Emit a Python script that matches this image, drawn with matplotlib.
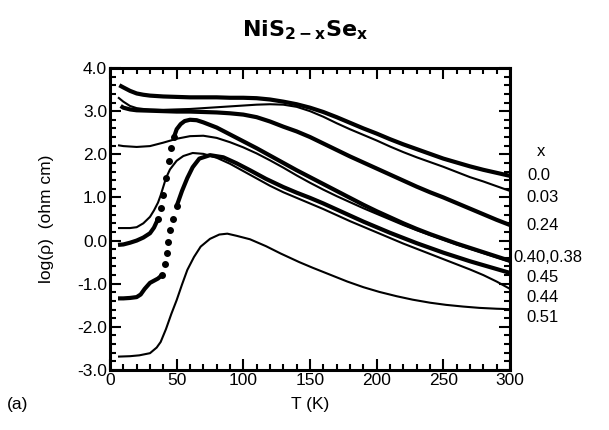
import numpy as np
import matplotlib
matplotlib.use("Agg")
import matplotlib.pyplot as plt
from matplotlib.ticker import MultipleLocator, FormatStrFormatter

plt.rcParams['font.family'] = ['Liberation Sans', 'DejaVu Sans']

# ---- data: temperature (K) and log(rho) ----
T_000 = [7, 10, 15, 20, 25, 30, 40, 50, 60, 70, 80, 90, 100, 110, 120, 130, 140, 150,
         160, 170, 180, 190, 200, 210, 220, 230, 240, 250, 260, 270, 280, 290, 300]
L_000 = [3.60, 3.55, 3.47, 3.41, 3.38, 3.36, 3.34, 3.33, 3.32, 3.32, 3.32, 3.31, 3.31, 3.30,
         3.27, 3.22, 3.16, 3.08, 2.98, 2.86, 2.73, 2.60, 2.48, 2.35, 2.23, 2.12, 2.01, 1.90,
         1.81, 1.72, 1.64, 1.57, 1.50]

T_003 = [6, 10, 15, 20, 25, 30, 40, 50, 60, 70, 80, 90, 100, 110, 120, 130, 140, 150,
         160, 170, 180, 190, 200, 210, 220, 230, 240, 250, 260, 270, 280, 290, 300]
L_003 = [3.32, 3.22, 3.12, 3.07, 3.05, 3.04, 3.03, 3.04, 3.05, 3.07, 3.09, 3.11, 3.13, 3.15,
         3.16, 3.15, 3.10, 3.00, 2.87, 2.72, 2.58, 2.45, 2.32, 2.18, 2.05, 1.93, 1.82, 1.71,
         1.59, 1.47, 1.37, 1.26, 1.15]

T_024 = [8, 10, 15, 20, 30, 40, 50, 60, 70, 80, 90, 100, 110, 120, 130, 140, 150, 160,
         170, 180, 190, 200, 210, 220, 230, 240, 250, 260, 270, 280, 290, 300]
L_024 = [3.12, 3.08, 3.04, 3.02, 3.01, 3.00, 2.99, 2.99, 2.98, 2.97, 2.95, 2.92, 2.86, 2.76,
         2.64, 2.53, 2.40, 2.25, 2.10, 1.95, 1.81, 1.67, 1.53, 1.39, 1.25, 1.12, 1.00, 0.87,
         0.74, 0.61, 0.48, 0.36]

T_038 = [6, 10, 20, 30, 40, 50, 60, 70, 80, 90, 100, 110, 120, 130, 140, 150, 160, 170,
         180, 190, 200, 210, 220, 230, 240, 250, 260, 270, 280, 290, 300]
L_038 = [2.21, 2.19, 2.17, 2.19, 2.27, 2.36, 2.42, 2.43, 2.38, 2.28, 2.16, 2.02, 1.86, 1.69,
         1.51, 1.34, 1.18, 1.03, 0.89, 0.75, 0.62, 0.49, 0.36, 0.24, 0.13, 0.02, -0.09, -0.19,
         -0.29, -0.39, -0.49]

T_040 = [6, 10, 15, 20, 25, 30, 33, 36, 38, 40, 42, 44, 46, 48, 50, 53, 56, 60, 65, 70,
         80, 90, 100, 110, 120, 130, 140, 150, 160, 170, 180, 190, 200, 210, 220, 230, 240,
         250, 260, 270, 280, 290, 300]
L_040 = [-0.10, -0.09, -0.05, 0.00, 0.07, 0.17, 0.30, 0.50, 0.75, 1.05, 1.45, 1.85, 2.15,
         2.40, 2.58, 2.70, 2.77, 2.80, 2.79, 2.74, 2.62, 2.46, 2.30, 2.14, 1.97, 1.80, 1.63,
         1.47, 1.31, 1.15, 0.99, 0.83, 0.68, 0.54, 0.40, 0.27, 0.15, 0.04, -0.07, -0.17,
         -0.27, -0.37, -0.47]

T_045 = [6, 10, 15, 20, 23, 26, 30, 33, 36, 39, 41, 42.5, 43.5, 45, 47, 50, 54, 58, 62, 67,
         75, 85, 95, 105, 117, 130, 140, 150, 160, 170, 180, 190, 200, 210, 220, 230, 240,
         250, 260, 270, 280, 290, 300]
L_045 = [-1.34, -1.34, -1.33, -1.31, -1.25, -1.12, -0.98, -0.93, -0.88, -0.80, -0.55, -0.28,
         -0.03, 0.24, 0.50, 0.80, 1.15, 1.45, 1.70, 1.90, 1.98, 1.93, 1.79, 1.63, 1.43, 1.24,
         1.11, 0.99, 0.86, 0.72, 0.58, 0.44, 0.31, 0.18, 0.06, -0.06, -0.17, -0.28, -0.38,
         -0.48, -0.57, -0.66, -0.75]

T_044 = [6, 10, 15, 20, 25, 30, 33, 36, 38, 40, 42, 45, 50, 55, 62, 70, 80, 90, 100, 110,
         120, 130, 140, 150, 160, 170, 180, 190, 200, 210, 220, 230, 240, 250, 260, 270,
         280, 290, 300]
L_044 = [0.29, 0.29, 0.29, 0.31, 0.40, 0.55, 0.70, 0.88, 1.05, 1.25, 1.45, 1.65, 1.85, 1.96,
         2.03, 2.01, 1.92, 1.78, 1.61, 1.44, 1.27, 1.12, 0.99, 0.86, 0.73, 0.59, 0.45, 0.32,
         0.19, 0.06, -0.07, -0.19, -0.31, -0.43, -0.55, -0.67, -0.80, -0.95, -1.12]

T_051 = [6, 15, 22, 30, 35, 38, 42, 46, 50, 54, 58, 63, 68, 75, 82, 88, 95, 105, 117, 128,
         142, 152, 165, 178, 190, 202, 215, 227, 240, 252, 265, 277, 290, 300]
L_051 = [-2.69, -2.68, -2.66, -2.61, -2.48, -2.35, -2.05, -1.70, -1.38, -1.02, -0.68, -0.38,
         -0.14, 0.04, 0.14, 0.16, 0.11, 0.03, -0.13, -0.30, -0.50, -0.63, -0.79, -0.95,
         -1.08, -1.19, -1.29, -1.37, -1.44, -1.49, -1.53, -1.56, -1.58, -1.59]

series = [  # (T, L, thick?)
    (T_000, L_000, True),
    (T_003, L_003, False),
    (T_024, L_024, True),
    (T_038, L_038, False),
    (T_040, L_040, True),
    (T_045, L_045, True),
    (T_044, L_044, False),
    (T_051, L_051, False),
]

legend_title = "x"
legend_labels = ["0.0", "0.03", "0.24", "0.40,0.38", "0.45", "0.44", "0.51"]
legend_y_px = [176, 197, 225, 258, 278, 298, 318]
legend_x_px = [527, 526, 526, 513, 526, 526, 526]

W, H = 609, 430
fig = plt.figure(figsize=(W / 100, H / 100), dpi=100)
ax = fig.add_axes([110 / W, 1 - 370 / H, 400 / W, 302 / H])


def draw(T, L, thick):
    T = np.asarray(T, float)
    L = np.asarray(L, float)
    if not thick:
        ax.plot(T, L, color='black', lw=1.5, solid_capstyle='butt')
        return
    # thick (dense dot) curves: on very steep steps the original points are
    # sparse, so show separate dots there instead of a solid line
    steep = np.abs(np.diff(L)) / np.diff(T) > 0.1
    start = 0
    dots = set()
    for i, s in enumerate(steep):
        if s:
            ax.plot(T[start:i + 1], L[start:i + 1], color='black', lw=3.0,
                    solid_capstyle='butt')
            start = i + 1
            dots.update([i, i + 1])
    ax.plot(T[start:], L[start:], color='black', lw=3.0, solid_capstyle='butt')
    idx = sorted(dots)
    if idx:
        ax.plot(T[idx], L[idx], linestyle='none', marker='o', color='black', ms=4.0)


for T, L, thick in series:
    draw(T, L, thick)

ax.set_xlim(0, 300)
ax.set_ylim(-3.0, 4.0)
ax.xaxis.set_major_locator(MultipleLocator(50))
ax.xaxis.set_minor_locator(MultipleLocator(10))
ax.yaxis.set_major_locator(MultipleLocator(1.0))
ax.yaxis.set_minor_locator(MultipleLocator(0.2))
ax.yaxis.set_major_formatter(FormatStrFormatter('%.1f'))
ax.tick_params(which='both', direction='in', top=True, right=True, width=1.5,
               labelsize=12.5, pad=2)
ax.tick_params(which='major', length=8)
ax.tick_params(which='minor', length=4)
for sp in ax.spines.values():
    sp.set_linewidth(2.2)

fig.text(110 / W - 0.105, 0.49, "log(ρ)  (ohm cm)", rotation=90, ha='center',
         va='center', fontsize=12.5)
fig.text(310 / W, 1 - 405 / H, "T (K)", ha='center', va='center', fontsize=12.5)
fig.text(18 / W, 1 - 405 / H, "(a)", ha='center', va='center', fontsize=12.5)
fig.text(305 / W, 1 - 30 / H, r"$\mathbf{NiS_{2-x}Se_{x}}$", ha='center', va='center',
         fontsize=16)

fig.text(541 / W, 1 - 152 / H, legend_title, ha='center', va='center', fontsize=12)
for lab, xp, yp in zip(legend_labels, legend_x_px, legend_y_px):
    fig.text(xp / W, 1 - yp / H, lab, ha='left', va='center', fontsize=12)

fig.savefig("out.png", dpi=100)
